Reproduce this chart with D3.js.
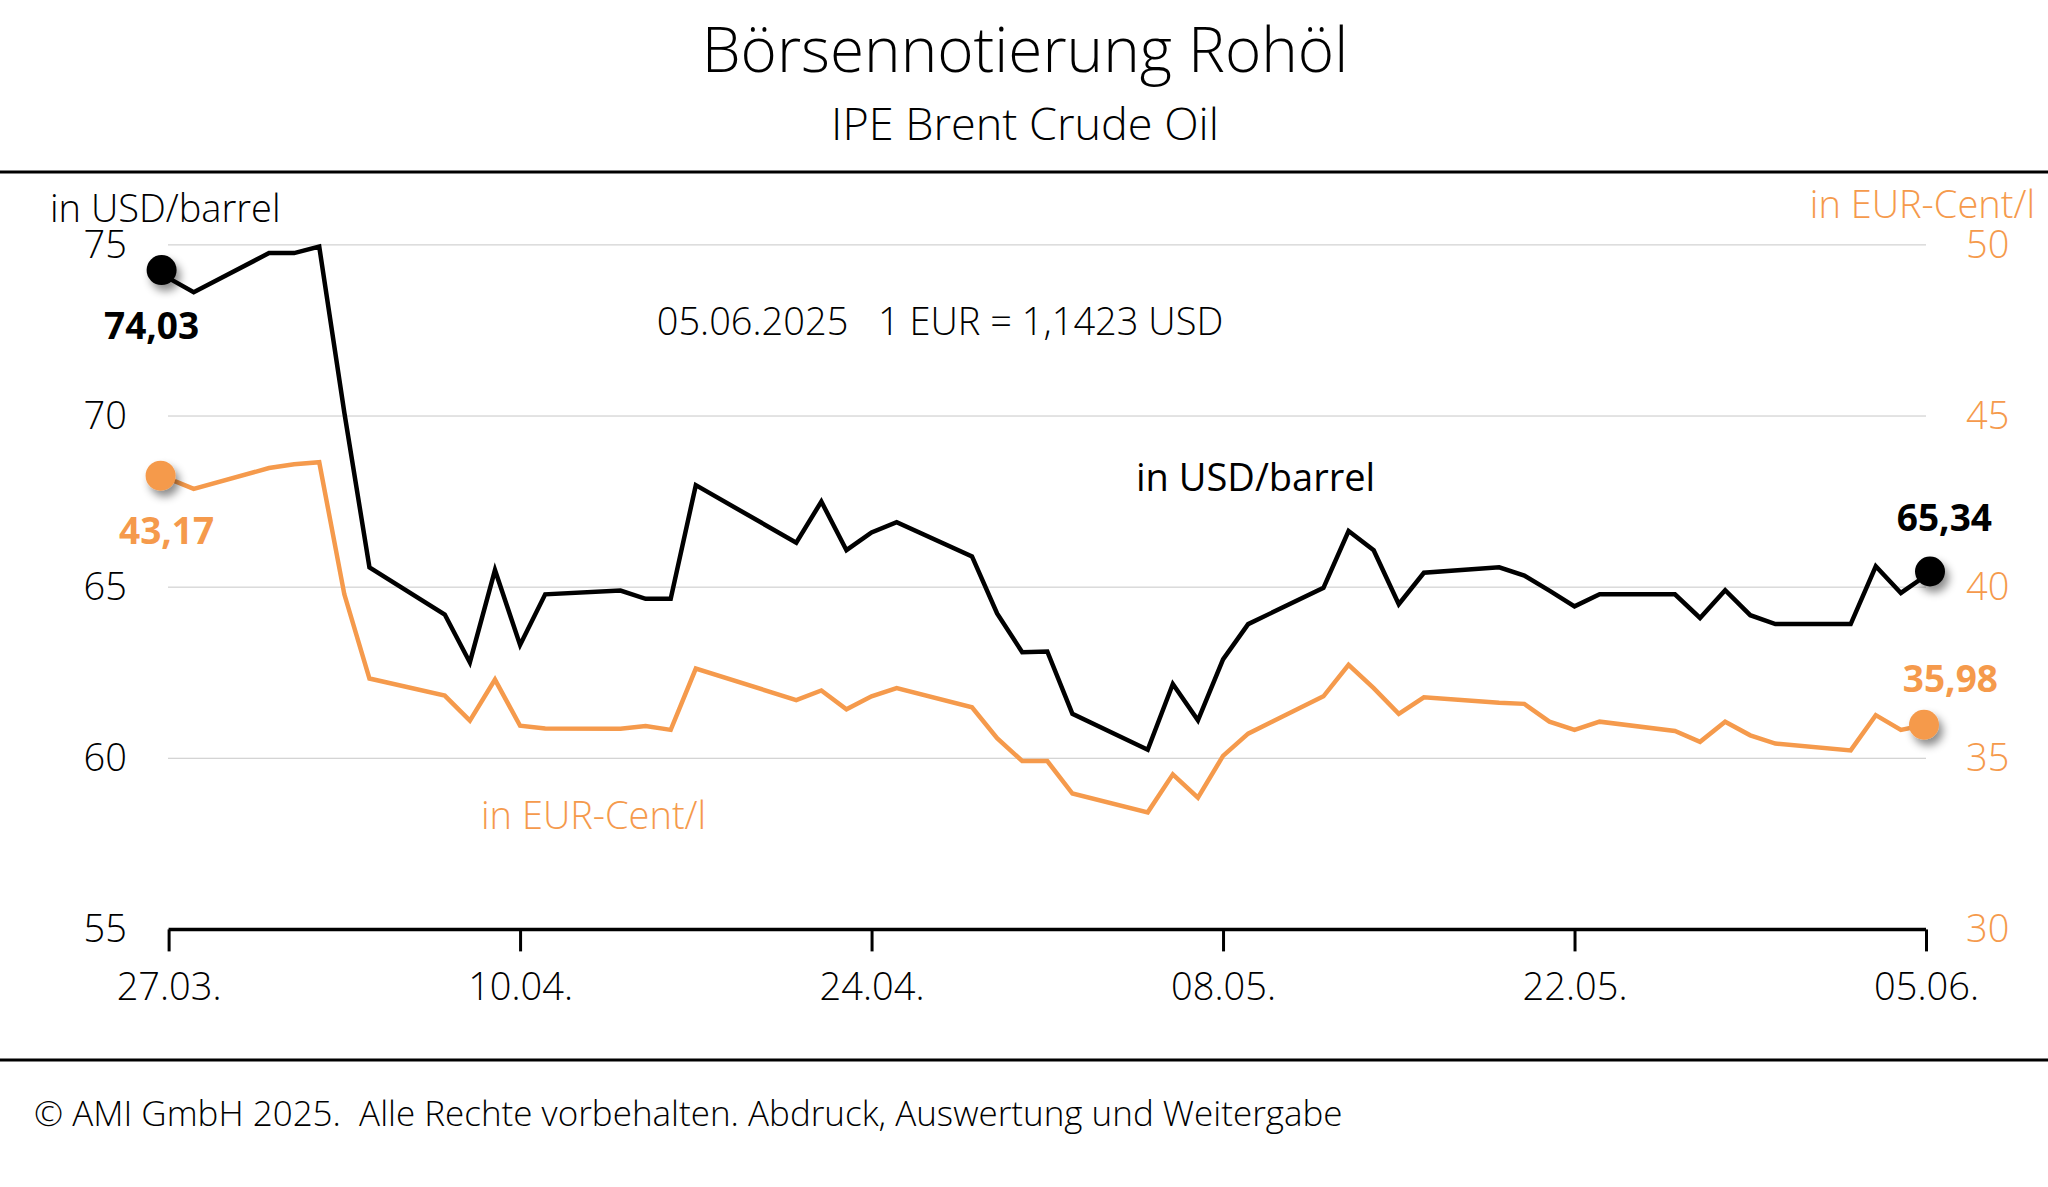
<!DOCTYPE html>
<html>
<head>
<meta charset="utf-8">
<script src="https://cdn.jsdelivr.net/npm/d3@7"></script>
<style>
body { margin: 0; background: #fff; }
text { font-family: "Open Sans", sans-serif; }
</style>
</head>
<body>
<script>
"use strict";

var dates = ["27.03","28.03","31.03","01.04","02.04","03.04","04.04","07.04","08.04","09.04","10.04","11.04",
    "14.04","15.04","16.04","17.04","21.04","22.04","23.04","24.04","25.04","28.04","29.04","30.04",
    "01.05","02.05","05.05","06.05","07.05","08.05","09.05","12.05","13.05","14.05","15.05","16.05",
    "19.05","20.05","21.05","22.05","23.05","26.05","27.05","28.05","29.05","30.05","02.06","03.06","04.06","05.06"];

var usd = [74.03,73.62,74.76,74.76,74.95,70.1,65.58,64.2,62.8,65.5,63.31,64.79,
    64.9,64.66,64.66,67.98,66.3,67.5,66.08,66.6,66.9,65.9,64.23,63.1,
    63.12,61.3,60.25,62.17,61.11,62.89,63.92,64.98,66.64,66.08,64.5,65.42,
    65.58,65.34,64.9,64.44,64.79,64.79,64.1,64.91,64.18,63.92,63.92,65.61,64.83,65.34];

var eur = [43.17,42.87,43.48,43.59,43.65,39.79,37.33,36.83,36.1,37.3,35.95,35.87,
    35.86,35.94,35.83,37.62,36.7,36.98,36.43,36.81,37.05,36.49,35.59,34.92,
    34.92,33.97,33.42,34.53,33.85,35.07,35.72,36.81,37.73,37.05,36.3,36.78,
    36.62,36.59,36.07,35.83,36.07,35.8,35.48,36.07,35.67,35.43,35.23,36.26,35.83,35.98];

var xTicks = ["27.03","10.04","24.04","08.05","22.05","05.06"];
var usdTicks = [55, 60, 65, 70, 75];
var eurTicks = [30, 35, 40, 45, 50];

var orange = "#f59a4c";
var W = 2048, H = 1187;

var parse = d3.timeParse("%d.%m.%Y");
var toDate = function(s) { return parse(s + ".2025"); };

var svg = d3.select("body").append("svg").attr("width", W).attr("height", H);

var defs = svg.append("defs");
var f = defs.append("filter").attr("id", "shadow").attr("x", "-100%").attr("y", "-100%")
    .attr("width", "300%").attr("height", "300%");
f.append("feDropShadow").attr("dx", 4).attr("dy", 6).attr("stdDeviation", 4)
    .attr("flood-color", "#000").attr("flood-opacity", 0.45);

var x = d3.scaleTime().domain([toDate("27.03"), toDate("05.06")]).range([168.6, 1926]);
var yL = d3.scaleLinear().domain([55, 75]).range([929.4, 244.9]);
var yR = d3.scaleLinear().domain([30, 50]).range([929.4, 244.9]);

// title block
svg.append("text").attr("x", 1025).attr("y", 72).attr("text-anchor", "middle")
    .attr("font-size", 62).attr("font-weight", 300).text("Börsennotierung Rohöl");
svg.append("text").attr("x", 1025).attr("y", 140).attr("text-anchor", "middle")
    .attr("font-size", 45).attr("font-weight", 300).text("IPE Brent Crude Oil");
svg.append("line").attr("x1", 0).attr("x2", W).attr("y1", 172).attr("y2", 172)
    .attr("stroke", "#000").attr("stroke-width", 3);
svg.append("line").attr("x1", 0).attr("x2", W).attr("y1", 1060).attr("y2", 1060)
    .attr("stroke", "#000").attr("stroke-width", 3);
svg.append("text").attr("x", 34).attr("y", 1126).attr("font-size", 35).attr("font-weight", 300)
    .attr("xml:space", "preserve")
    .text("© AMI GmbH 2025.  Alle Rechte vorbehalten. Abdruck, Auswertung und Weitergabe");

// grid
svg.append("g").selectAll("line").data(usdTicks.slice(1)).join("line")
    .attr("x1", 168).attr("x2", 1926)
    .attr("y1", function(d) { return yL(d); }).attr("y2", function(d) { return yL(d); })
    .attr("stroke", "#c8c8c8").attr("stroke-width", 1);

// axis labels
svg.append("g").selectAll("text").data(usdTicks).join("text")
    .attr("x", 127).attr("y", function(d) { return yL(d) + 13; })
    .attr("text-anchor", "end").attr("font-size", 38).attr("font-weight", 300).text(function(d) { return d; });
svg.append("g").selectAll("text").data(eurTicks).join("text")
    .attr("x", 1966).attr("y", function(d) { return yR(d) + 13; })
    .attr("font-size", 38).attr("font-weight", 300).attr("fill", orange).text(function(d) { return d; });
svg.append("text").attr("x", 50).attr("y", 222).attr("font-size", 38).attr("font-weight", 300).text("in USD/barrel");
svg.append("text").attr("x", 2035).attr("y", 218).attr("text-anchor", "end").attr("font-size", 38)
    .attr("font-weight", 300).attr("fill", orange).text("in EUR-Cent/l");

// x axis
var xAxis = d3.axisBottom(x).tickValues(xTicks.map(toDate)).tickFormat(d3.timeFormat("%d.%m.")).tickSize(22);
var gx = svg.append("g").attr("transform", "translate(0,929.4)").call(xAxis);
gx.select(".domain").attr("stroke-width", 3.5).attr("d", "M168.6,0H1926");
gx.selectAll(".tick line").attr("stroke-width", 3);
gx.selectAll(".tick text").attr("font-size", 38).attr("font-weight", 300).attr("dy", 46)
    .attr("font-family", "Open Sans, sans-serif").attr("fill", "#000");

// lines
var lineL = d3.line().x(function(d, i) { return x(toDate(dates[i])); }).y(function(d) { return yL(d); });
var lineR = d3.line().x(function(d, i) { return x(toDate(dates[i])); }).y(function(d) { return yR(d); });
svg.append("path").attr("d", lineR(eur)).attr("fill", "none").attr("stroke", orange)
    .attr("stroke-width", 4.5).attr("stroke-linejoin", "miter");
svg.append("path").attr("d", lineL(usd)).attr("fill", "none").attr("stroke", "#000")
    .attr("stroke-width", 4.5).attr("stroke-linejoin", "miter");

// end markers
var last = dates.length - 1;
var marks = [
    [x(toDate(dates[0])) - 7, yL(usd[0]) - 8, "#000"],
    [x(toDate(dates[last])) + 4, yL(usd[last]) - 4, "#000"],
    [x(toDate(dates[0])) - 8, yR(eur[0]) - 3, orange],
    [x(toDate(dates[last])) - 2, yR(eur[last]), orange]
];
svg.append("g").selectAll("circle").data(marks).join("circle")
    .attr("cx", function(d) { return d[0]; }).attr("cy", function(d) { return d[1]; })
    .attr("r", 15).attr("fill", function(d) { return d[2]; }).attr("filter", "url(#shadow)");

var fmt = function(v) { return v.toFixed(2).replace(".", ","); };
svg.append("text").attr("x", 104).attr("y", 339).attr("font-size", 37).attr("font-weight", 700)
    .text(fmt(usd[0]));
svg.append("text").attr("x", 119).attr("y", 544).attr("font-size", 37).attr("font-weight", 700)
    .attr("fill", orange).text(fmt(eur[0]));
svg.append("text").attr("x", 1992).attr("y", 531).attr("text-anchor", "end").attr("font-size", 37)
    .attr("font-weight", 700).text(fmt(usd[last]));
svg.append("text").attr("x", 1998).attr("y", 692).attr("text-anchor", "end").attr("font-size", 37)
    .attr("font-weight", 700).attr("fill", orange).text(fmt(eur[last]));

// annotations
svg.append("text").attr("x", 940).attr("y", 335).attr("text-anchor", "middle").attr("font-size", 38)
    .attr("font-weight", 300).attr("xml:space", "preserve").text("05.06.2025   1 EUR = 1,1423 USD");
svg.append("text").attr("x", 1136).attr("y", 491).attr("font-size", 38).attr("font-weight", 400)
    .text("in USD/barrel");
svg.append("text").attr("x", 481).attr("y", 829).attr("font-size", 38).attr("font-weight", 300)
    .attr("fill", orange).text("in EUR-Cent/l");
</script>
</body>
</html>
